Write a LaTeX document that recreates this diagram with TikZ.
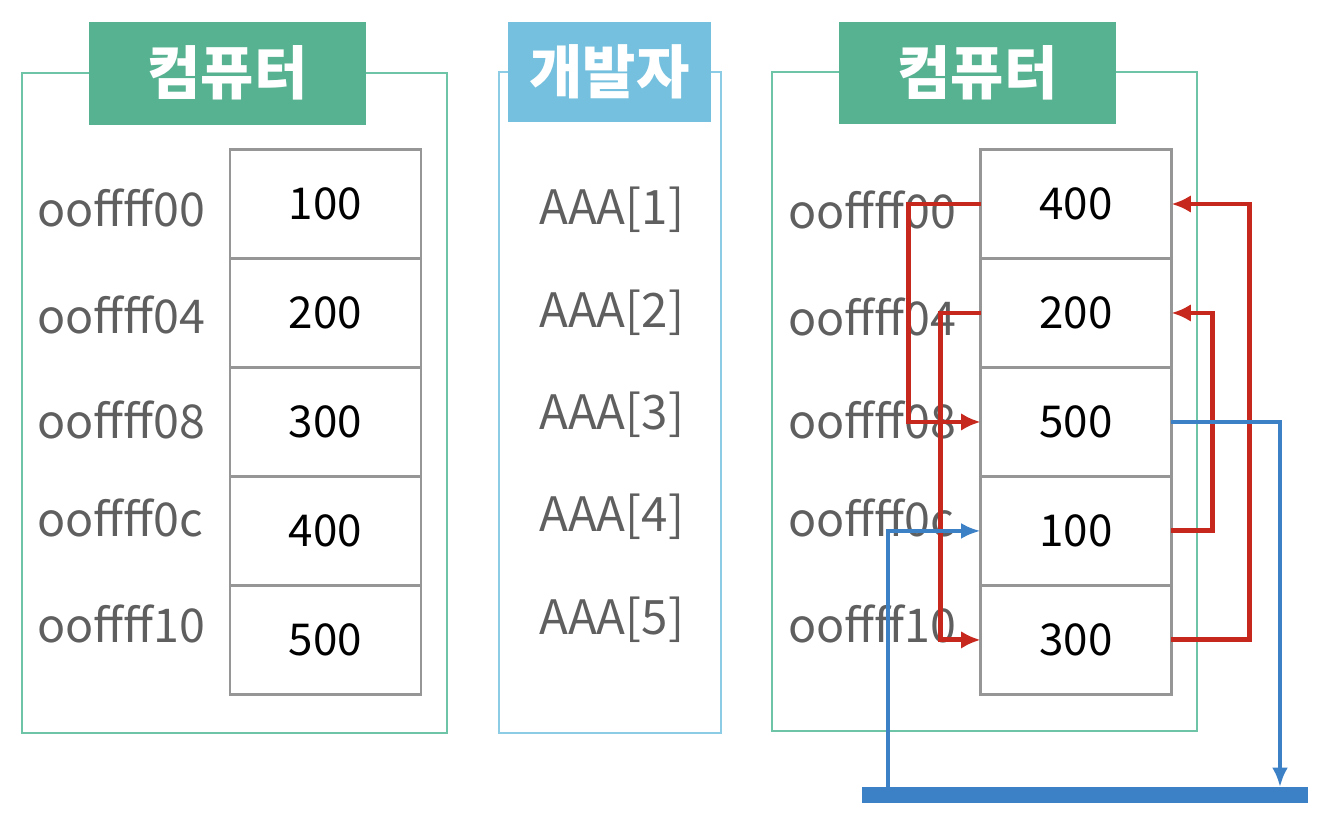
\documentclass[tikz,border=0pt]{standalone}
\usepackage{fontspec}
\setmainfont{Noto Sans CJK KR}
\usepackage{tikz}
\usepackage{xcolor}
\usetikzlibrary{positioning,arrows.meta}

\definecolor{titleG}{RGB}{86,178,144}
\definecolor{frameG}{RGB}{110,196,166}
\definecolor{titleB}{RGB}{116,192,222}
\definecolor{frameB}{RGB}{140,204,228}
\definecolor{cellgray}{RGB}{150,150,150}
\definecolor{addrgray}{RGB}{95,95,95}
\definecolor{ptrred}{RGB}{198,40,30}
\definecolor{busblue}{RGB}{60,128,198}

\tikzset{
  cell/.style={draw=cellgray, line width=1.6pt, minimum width=3.82cm, minimum height=2.18cm,
    outer sep=0pt, inner sep=0pt, font=\fontsize{25}{28}\selectfont},
  addr/.style={anchor=west, text=addrgray, inner sep=0pt, font=\fontsize{26.5}{30}\selectfont},
  idx/.style={text=addrgray, inner sep=0pt, font=\fontsize{27}{30}\selectfont},
  title/.style={text=white, inner sep=0pt, font=\bfseries\fontsize{33}{36}\selectfont},
  ptr/.style={ptrred, line width=2.8pt, -{Latex[length=11pt,width=10pt]}},
  bus/.style={busblue, line width=2.2pt, -{Latex[length=11pt,width=9pt]}}
}

\begin{document}
\begin{tikzpicture}[x=0.02cm, y=-0.02cm]
                \useasboundingbox (0,0) rectangle (1326,818);
                % Frames
                \draw[frameG, line width=1.3pt] (22,73) rectangle (447,733);
                \draw[frameB, line width=1.3pt] (499,72) rectangle (721,733);
                \draw[frameG, line width=1.3pt] (772,72) rectangle (1197,731);
                % Titles
                \fill[titleG] (89,22) rectangle (366,125);
                \node[title] (t1) at (227.5,73) {컴퓨터};
                \fill[titleB] (508,22) rectangle (711,122);
                \node[title] (t2) at (609.5,72) {개발자};
                \fill[titleG] (839,22) rectangle (1116,124);
                \node[title] (t3) at (977.5,73) {컴퓨터};

                % left memory
                \node[cell] (L1) at (325.5,204) {100};
                \node[cell, below=0pt of L1] (L2) {200};
                \node[cell, below=0pt of L2] (L3) {300};
                \node[cell, below=0pt of L3] (L4) {400};
                \node[cell, below=0pt of L4] (L5) {500};
                \node[addr] (la1) at (37,208) {ooffff00};
                \node[addr] (la2) at (37,315) {ooffff04};
                \node[addr] (la3) at (37,420) {ooffff08};
                \node[addr] (la4) at (37,518) {ooffff0c};
                \node[addr] (la5) at (37,624) {ooffff10};

                % developer view
                \node[idx] (d1) at (612,210) {AAA[1]};
                \node[idx] (d2) at (612,313) {AAA[2]};
                \node[idx] (d3) at (612,415) {AAA[3]};
                \node[idx] (d4) at (612,517) {AAA[4]};
                \node[idx] (d5) at (612,620) {AAA[5]};

                % right memory
                \node[addr] (ra1) at (788,210) {ooffff00};
                \node[addr] (ra2) at (788,317) {ooffff04};
                \node[addr] (ra3) at (788,420) {ooffff08};
                \node[addr] (ra4) at (788,518) {ooffff0c};
                \node[addr] (ra5) at (788,624) {ooffff10};
                \node[cell, fill=white, fill opacity=0.6, text opacity=1] (R1) at (1076,204) {400};
                \node[cell, below=0pt of R1, fill=white, fill opacity=0.6, text opacity=1] (R2) {200};
                \node[cell, below=0pt of R2, fill=white, fill opacity=0.6, text opacity=1] (R3) {500};
                \node[cell, below=0pt of R3, fill=white, fill opacity=0.6, text opacity=1] (R4) {100};
                \node[cell, below=0pt of R4, fill=white, fill opacity=0.6, text opacity=1] (R5) {300};

                % pointer lines
                \draw[ptr] (R1.west) -- ++(-72,0) |- (R3.west);
                \draw[ptr] (R2.west) -- ++(-40,0) |- (R5.west);
                \draw[ptr] (R4.east) -- ++(41,0) |- (R2.east);
                \draw[ptr] (R5.east) -- ++(78,0) |- (R1.east);

                % bus
                \node[fill=busblue, minimum width=8.92cm, minimum height=0.32cm, inner sep=0pt, outer sep=0pt] (busbar) at (1085,795) {};
                \coordinate (busin) at (1280,787);
                \coordinate (busout) at (888,787);
                \draw[bus] (R3.east) -| (busin);
                \draw[bus] (busout) |- (R4.west);
            \end{tikzpicture}
\end{document}
